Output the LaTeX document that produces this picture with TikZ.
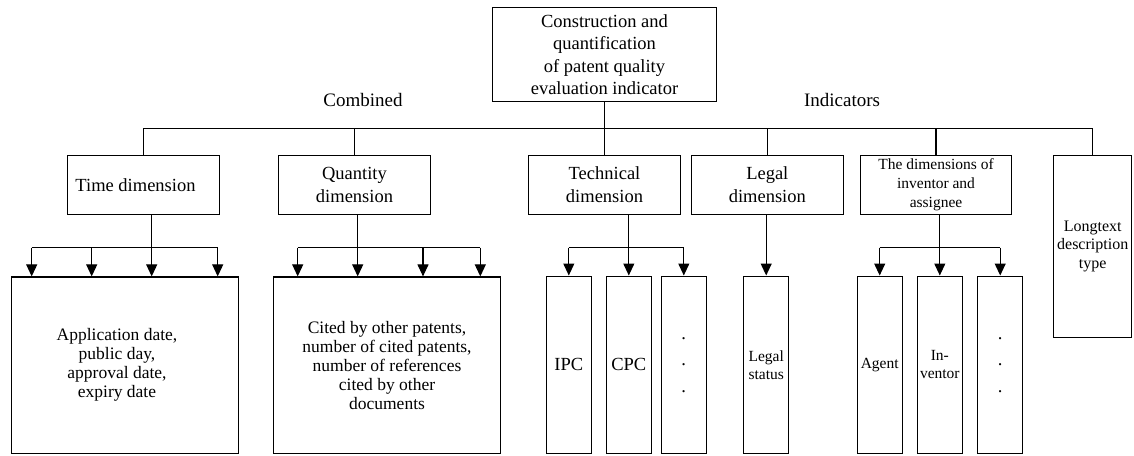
\documentclass[tikz,border=0pt]{standalone}
\usepackage{fontspec}
\setmainfont{Liberation Serif}
\usetikzlibrary{arrows.meta}
\begin{document}
\begin{tikzpicture}[
  x=1pt, y=-1pt,
  every node/.style={inner sep=0pt, align=center},
  box/.style={draw, rectangle, line width=1.1pt},
  head/.style={box, minimum width=151.5pt, minimum height=58.6pt, font=\fontsize{18.5}{23}\selectfont},
  wide/.style={box, minimum width=227.5pt, minimum height=176.7pt, font=\fontsize{17.5}{19}\selectfont},
  slim/.style={box, minimum width=45pt, minimum height=177.7pt},
  small/.style={font=\fontsize{15.5}{18}\selectfont},
  big/.style={font=\fontsize{18.5}{22}\selectfont},
  dots/.style={font=\fontsize{18.5}{26.7}\selectfont},
  tag/.style={font=\fontsize{19}{22}\selectfont},
  conn/.style={line width=1.1pt},
  arr/.style={conn, -{Triangle[width=11pt,length=12pt]}},
]
\useasboundingbox (0,0) rectangle (1134,455);

% root
\node[box, minimum width=223.3pt, minimum height=94pt, font=\fontsize{18.5}{22.4}\selectfont]
  (top) at (604.5,54.6) {Construction and\\quantification\\of patent quality\\evaluation indicator};
\node[tag] (comb) at (363,100) {Combined};
\node[tag] (ind) at (842,100) {Indicators};

% dimensions
\node[head] (time) at (143.5,185) {Time dimension\hspace*{16pt}};
\node[head] (quant) at (354.5,185) {Quantity\\dimension};
\node[head] (tech) at (604.5,185) {Technical\\dimension};
\node[head] (legal) at (767.3,185) {Legal\\dimension};
\node[head, font=\fontsize{15.5}{19}\selectfont] (invent) at (936,185) {The dimensions of\\inventor and\\assignee};
\node[box, minimum width=78pt, minimum height=182.7pt, font=\fontsize{16}{18.5}\selectfont]
  (long) at (1092.7,246.4) {Longtext\\description\\type};

% indicator boxes
\node[wide] (appl) at (125,365.3)
  {\begin{tabular}{@{}c@{}}Application date,\\public day,\\approval date,\\expiry date\end{tabular}\hspace*{16pt}};
\node[wide] (cited) at (387,365.3)
  {Cited by other patents,\\number of cited patents,\\number of references\\cited by other\\documents};
\node[slim, big] (ipc) at (568.8,364.9) {IPC};
\node[slim, big] (cpc) at (628.8,364.9) {CPC};
\node[slim, dots] (tdots) at (683.8,364.9) {.\\.\\.};
\node[slim, small] (lstat) at (766.2,364.9) {Legal\\status};
\node[slim, small] (agent) at (879.7,364.9) {Agent};
\node[slim, small] (inv) at (939.8,364.9) {In-\\ventor};
\node[slim, dots] (idots) at (1000.2,364.9) {.\\.\\.};

% main bus
\coordinate (bus) at (0,128.7);
\coordinate (sub) at (0,247.7);
\draw[conn] (time.north) -- (time.north |- bus) -| (long.north);
\draw[conn] (top.south) -- (tech.north);
\draw[conn] (quant.north) -- (quant.north |- bus);
\draw[conn] (legal.north) -- (legal.north |- bus);
\draw[conn] (invent.north) -- (invent.north |- bus);

% time dimension branch
\draw[conn] (151.7,0 |- time.south) -- (151.7,0 |- sub);
\draw[conn] (31.7,0 |- sub) -- (217.7,0 |- sub);
\foreach \x in {31.7,91.7,151.7,217.7}
  \draw[arr] (\x,0 |- sub) -- (\x,0 |- appl.north);

% quantity dimension branch
\draw[conn] (357.7,0 |- quant.south) -- (357.7,0 |- sub);
\draw[conn] (297.7,0 |- sub) -- (480.3,0 |- sub);
\foreach \x in {297.7,357.7,423,480.3}
  \draw[arr] (\x,0 |- sub) -- (\x,0 |- cited.north);

% technical dimension branch
\draw[conn] (cpc.north |- tech.south) -- (cpc.north |- sub);
\draw[conn] (ipc.north |- sub) -- (tdots.north |- sub);
\foreach \n in {ipc,cpc,tdots}
  \draw[arr] (\n.north |- sub) -- (\n.north);

% legal dimension branch
\draw[arr] (lstat.north |- legal.south) -- (lstat.north);

% inventor and assignee branch
\draw[conn] (inv.north |- invent.south) -- (inv.north |- sub);
\draw[conn] (agent.north |- sub) -- (idots.north |- sub);
\foreach \n in {agent,inv,idots}
  \draw[arr] (\n.north |- sub) -- (\n.north);
\end{tikzpicture}
\end{document}
